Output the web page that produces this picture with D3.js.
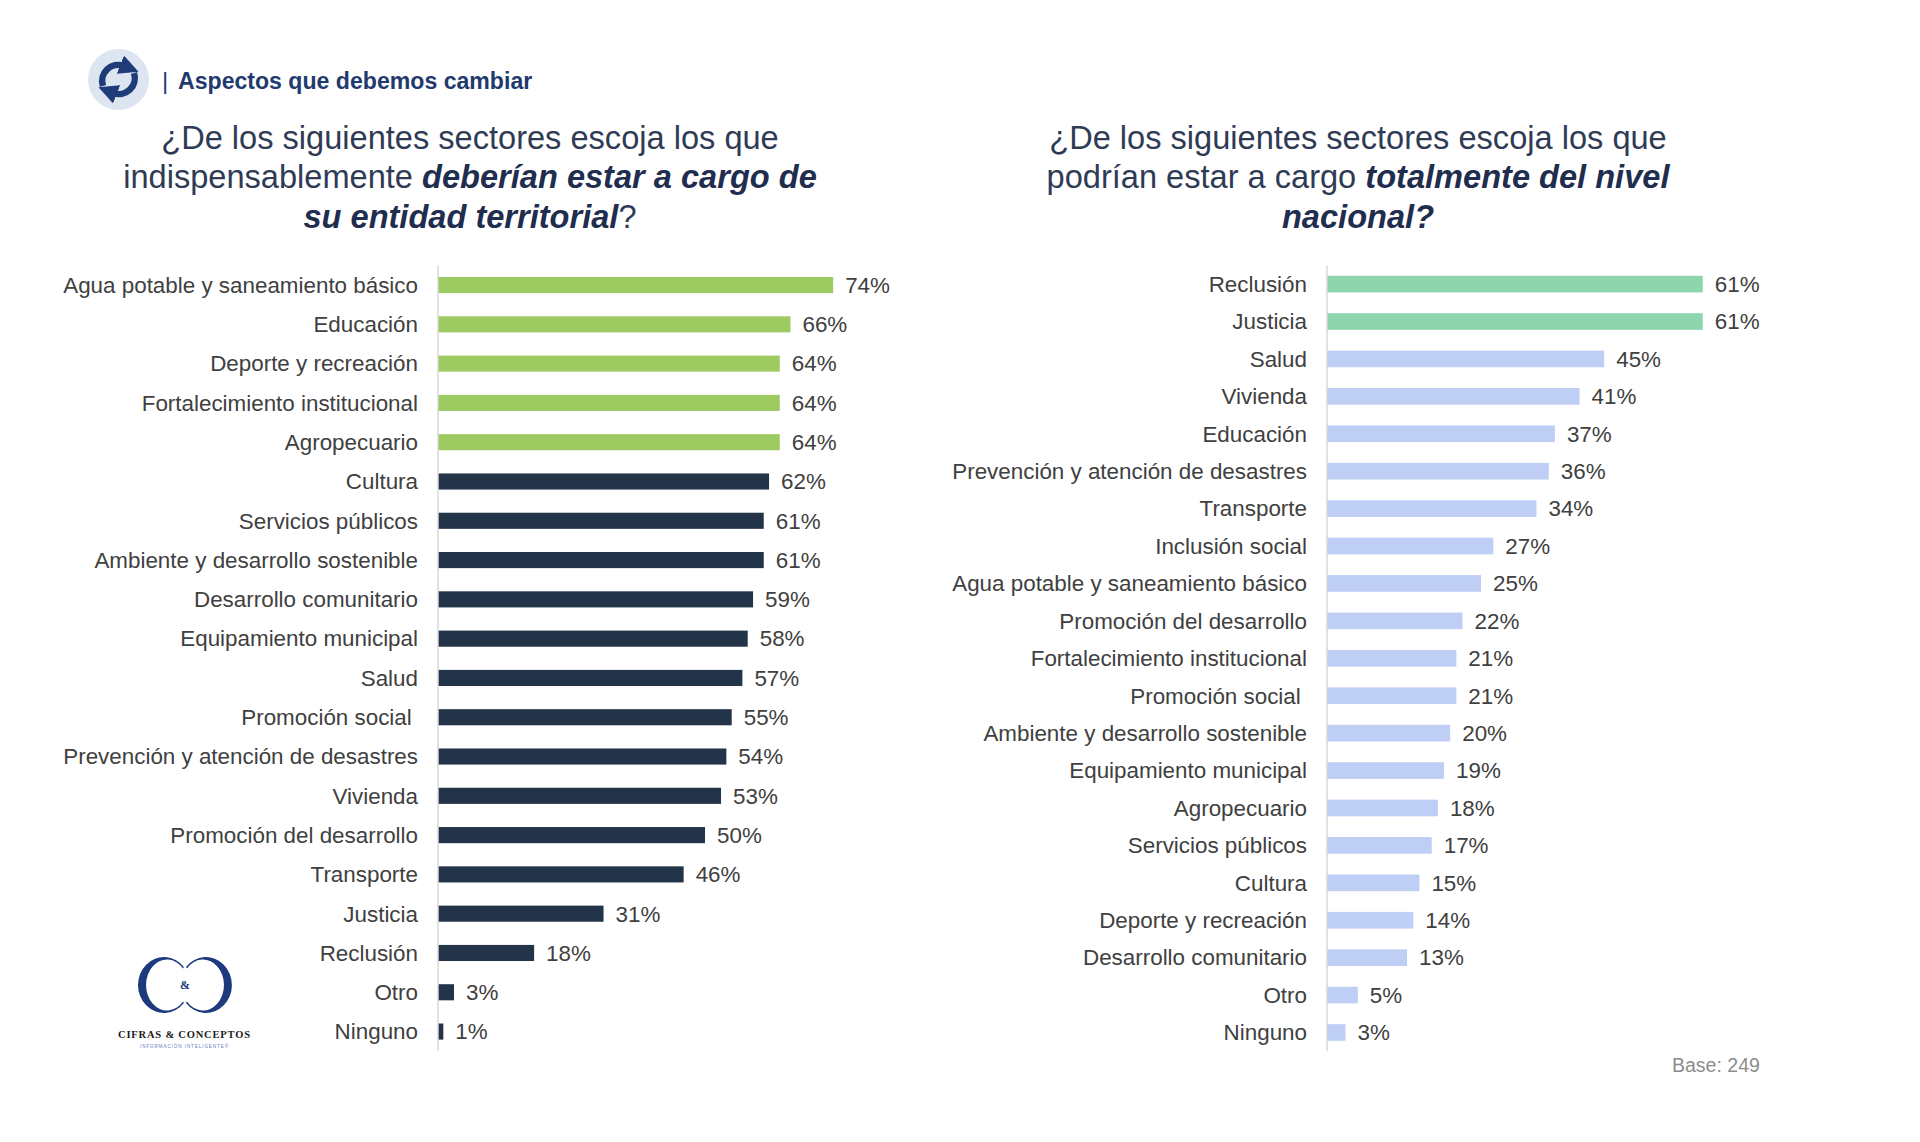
<!DOCTYPE html>
<html>
<head>
<meta charset="utf-8">
<script src="https://cdn.jsdelivr.net/npm/d3@7"></script>
<style>
  html, body { margin: 0; padding: 0; background: #fff; }
  svg { display: block; font-family: "Liberation Sans", Arial, sans-serif; }
</style>
</head>
<body>
<svg id="chart" width="1920" height="1142"></svg>
<script>
// left panel: sectors that should be run by the territorial entity
const leftSectors = [
  "Agua potable y saneamiento básico", "Educación", "Deporte y recreación",
  "Fortalecimiento institucional", "Agropecuario", "Cultura", "Servicios públicos",
  "Ambiente y desarrollo sostenible", "Desarrollo comunitario", "Equipamiento municipal",
  "Salud", "Promoción social ", "Prevención y atención de desastres", "Vivienda",
  "Promoción del desarrollo", "Transporte", "Justicia", "Reclusión", "Otro", "Ninguno"
];
const leftValues = [74, 66, 64, 64, 64, 62, 61, 61, 59, 58, 57, 55, 54, 53, 50, 46, 31, 18, 3, 1];

// right panel: sectors that could be run fully at national level
const rightSectors = [
  "Reclusión", "Justicia", "Salud", "Vivienda", "Educación",
  "Prevención y atención de desastres", "Transporte", "Inclusión social",
  "Agua potable y saneamiento básico", "Promoción del desarrollo",
  "Fortalecimiento institucional", "Promoción social ", "Ambiente y desarrollo sostenible",
  "Equipamiento municipal", "Agropecuario", "Servicios públicos", "Cultura",
  "Deporte y recreación", "Desarrollo comunitario", "Otro", "Ninguno"
];
const rightValues = [61, 61, 45, 41, 37, 36, 34, 27, 25, 22, 21, 21, 20, 19, 18, 17, 15, 14, 13, 5, 3];

const svg = d3.select("#chart");
const labelColor = "#404040";
const navy = "#1f3c78";

// ---- header ----
const head = svg.append("g");
head.append("circle").attr("cx", 118.5).attr("cy", 79.5).attr("r", 30.5).attr("fill", "#dde6f0");

const defs = svg.append("defs");
defs.append("marker")
  .attr("id", "arrowHead")
  .attr("viewBox", "0 0 10 10")
  .attr("refX", 2).attr("refY", 5)
  .attr("markerWidth", 3).attr("markerHeight", 3)
  .attr("orient", "auto")
  .append("path").attr("d", "M0,0 L10,5 L0,10 Z").attr("fill", navy);

head.append("path")
  .attr("d", "M103,86 A16,16 0 0 1 124,66")
  .attr("fill", "none").attr("stroke", navy).attr("stroke-width", 6.5)
  .attr("marker-end", "url(#arrowHead)");
head.append("path")
  .attr("d", "M134,73 A16,16 0 0 1 113,93")
  .attr("fill", "none").attr("stroke", navy).attr("stroke-width", 6.5)
  .attr("marker-end", "url(#arrowHead)");

head.append("text").attr("x", 162).attr("y", 88.5)
  .attr("fill", navy).style("font-size", "24px").text("|");
head.append("text").attr("x", 178).attr("y", 88.5)
  .attr("fill", "#1f3a6e").style("font-size", "23.1px").style("font-weight", "bold")
  .text("Aspectos que debemos cambiar");

// ---- titles ----
function drawTitle(cx, lines) {
  const baselines = [148.5, 188, 227.5];
  lines.forEach((parts, i) => {
    const t = svg.append("text")
      .attr("x", cx).attr("y", baselines[i])
      .attr("text-anchor", "middle")
      .style("font-size", "32.6px")
      .style("white-space", "pre");
    parts.forEach(p => {
      t.append("tspan")
        .attr("fill", p.b ? "#1f2d4e" : "#2f3b55")
        .style("font-weight", p.b ? "bold" : "normal")
        .style("font-style", p.b ? "italic" : "normal")
        .text(p.t);
    });
  });
}

drawTitle(470, [
  [{ t: "¿De los siguientes sectores escoja los que" }],
  [{ t: "indispensablemente " }, { t: "deberían estar a cargo de", b: true }],
  [{ t: "su entidad territorial", b: true }, { t: "?" }]
]);
drawTitle(1358, [
  [{ t: "¿De los siguientes sectores escoja los que" }],
  [{ t: "podrían estar a cargo " }, { t: "totalmente del nivel", b: true }],
  [{ t: "nacional?", b: true }]
]);

// ---- bar panels ----
function drawBars(opts) {
  const { sectors, values, x0, pxPerPct, bandPad, colorFn } = opts;
  const x = d3.scaleLinear().domain([0, 100]).range([x0, x0 + pxPerPct * 100]);
  const y = d3.scaleBand().domain(sectors).range([265.4, 1051.2])
    .paddingInner(bandPad).paddingOuter(bandPad / 2);

  const g = svg.append("g");
  const rows = sectors.map((s, i) => ({ s, v: values[i], i }));

  g.selectAll("rect").data(rows).join("rect")
    .attr("x", x(0))
    .attr("y", d => y(d.s))
    .attr("width", d => x(d.v) - x(0))
    .attr("height", y.bandwidth())
    .attr("fill", d => colorFn(d.i));

  g.append("line")
    .attr("x1", x(0)).attr("x2", x(0))
    .attr("y1", y.range()[0]).attr("y2", y.range()[1])
    .attr("stroke", "#d9d9d9").attr("stroke-width", 1.5);

  g.selectAll(".cat").data(rows).join("text")
    .attr("class", "cat")
    .attr("x", x(0) - 20)
    .attr("y", d => y(d.s) + y.bandwidth() / 2)
    .attr("dy", "0.35em")
    .attr("text-anchor", "end")
    .attr("fill", labelColor)
    .style("font-size", "22.4px")
    .style("white-space", "pre")
    .text(d => d.s);

  g.selectAll(".val").data(rows).join("text")
    .attr("class", "val")
    .attr("x", d => x(d.v) + 12)
    .attr("y", d => y(d.s) + y.bandwidth() / 2)
    .attr("dy", "0.35em")
    .attr("fill", labelColor)
    .style("font-size", "22.4px")
    .text(d => d.v + "%");
}

drawBars({
  sectors: leftSectors, values: leftValues,
  x0: 438, pxPerPct: 5.34, bandPad: 0.59,
  colorFn: i => i < 5 ? "#9dcb62" : "#233348"
});
drawBars({
  sectors: rightSectors, values: rightValues,
  x0: 1327, pxPerPct: 6.16, bandPad: 0.555,
  colorFn: i => i < 2 ? "#8ed4ad" : "#bfcef5"
});

// ---- footer ----
svg.append("text").attr("x", 1672).attr("y", 1071.5)
  .attr("fill", "#8c8c8c").style("font-size", "19.5px").text("Base: 249");

// logo: two facing crescents with an ampersand
const logoBlue = "#1d3a7e";
const logo = svg.append("g");
logo.append("path")
  .attr("d", "M183.9,967 A26,28 0 1 0 183.9,1003 L183.1,1001.4 A21,25.5 0 1 1 183.1,968.6 Z")
  .attr("fill", logoBlue);
logo.append("path")
  .attr("d", "M186,967 A26,28 0 1 1 186,1003 L186.9,1001.4 A21,25.5 0 1 0 186.9,968.6 Z")
  .attr("fill", logoBlue);
logo.append("text").attr("x", 185).attr("y", 989).attr("text-anchor", "middle")
  .attr("fill", logoBlue).style("font-family", "'Liberation Serif', serif")
  .style("font-size", "12px").style("font-weight", "bold").text("&");
logo.append("text").attr("x", 118).attr("y", 1038)
  .attr("textLength", 132).attr("lengthAdjust", "spacing")
  .attr("fill", "#1a1a1a").style("font-family", "'Liberation Serif', serif")
  .style("font-size", "10.5px").style("font-weight", "bold")
  .text("CIFRAS & CONCEPTOS");
logo.append("text").attr("x", 140).attr("y", 1048)
  .attr("textLength", 88).attr("lengthAdjust", "spacing")
  .attr("fill", "#5a7cc0").style("font-size", "4.5px")
  .text("INFORMACIÓN INTELIGENTE®");
</script>
</body>
</html>
